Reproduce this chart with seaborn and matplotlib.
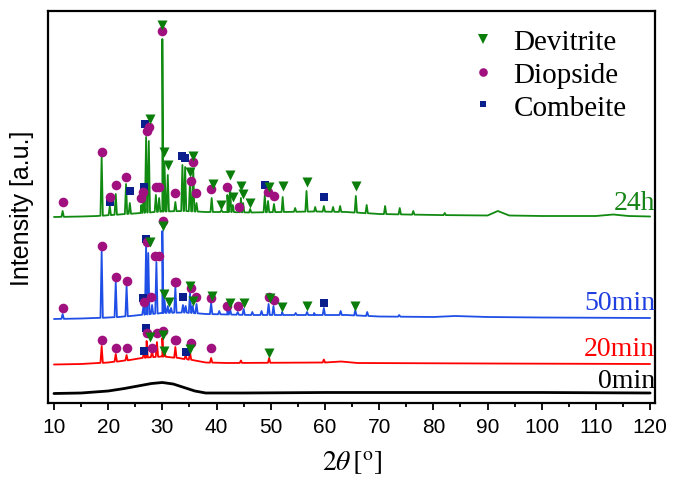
import numpy as np
import pandas as pd
import matplotlib
matplotlib.use("Agg")
import matplotlib.pyplot as plt
from matplotlib.ticker import MultipleLocator
from matplotlib.lines import Line2D
import seaborn as sns

# ---------------- data ----------------
# y values are intensities in arbitrary units (already offset per pattern)

# 0 min (amorphous)
base0_x = [10.0, 15.0, 20.0, 23.0, 26.0, 28.0, 30.0, 32.0, 34.0, 36.0, 38.0, 45.0, 60.0, 80.0, 100.0, 120.0]
base0_y = [9.5, 10.0, 12.0, 14.5, 17.5, 19.5, 20.5, 19.0, 15.5, 12.0, 10.0, 10.0, 10.5, 10.5, 10.5, 10.0]
peak0_x = []
peak0_y = []

# 20 min
base20_x = [10.0, 15.0, 20.0, 24.0, 27.0, 30.0, 33.0, 36.0, 38.0, 42.0, 60.0, 63.0, 66.0, 90.0, 120.0]
base20_y = [38.5, 39.0, 40.5, 43.0, 45.5, 46.5, 45.0, 42.5, 40.5, 40.0, 40.5, 41.5, 40.0, 39.5, 39.0]
peak20_x = [18.8, 21.4, 23.4, 26.6, 27.1, 28.1, 29.0, 30.0, 30.4, 32.4, 34.3, 35.1, 39.0, 44.5, 49.7, 59.8]
peak20_y = [57.0, 49.0, 48.0, 50.0, 62.0, 52.0, 61.0, 65.0, 51.0, 56.0, 48.0, 51.0, 45.0, 42.5, 45.0, 43.5]

# 50 min
base50_x = [10.0, 15.0, 18.0, 22.0, 26.0, 30.0, 34.0, 38.0, 42.0, 46.0, 52.0, 58.0, 64.0, 70.0, 80.0, 84.0, 90.0, 100.0, 120.0]
base50_y = [84.0, 84.5, 85.0, 86.0, 88.0, 90.0, 90.5, 89.0, 88.5, 88.0, 88.0, 88.0, 88.0, 86.5, 86.0, 87.0, 86.0, 85.5, 85.0]
peak50_x = [11.6, 18.8, 21.4, 23.4, 26.5, 27.0, 27.4, 28.1, 28.9, 30.0, 30.4, 31.0, 31.6, 32.4, 33.8, 34.3,
            35.1, 35.6, 36.3, 39.0, 40.5, 42.0, 42.5, 43.9, 45.0, 46.6, 48.3, 49.6, 50.5, 52.1, 54.6, 56.7,
            58.0, 59.8, 62.9, 65.6, 67.8, 73.7]
peak50_y = [89.0, 152.0, 121.0, 117.0, 96.0, 157.0, 150.0, 98.0, 141.0, 172.0, 103.0, 97.0, 95.0, 116.0, 98.0, 97.0,
            110.0, 97.0, 99.0, 100.0, 92.0, 92.0, 94.0, 91.0, 94.0, 91.0, 92.0, 99.0, 97.0, 91.0, 90.0, 91.0,
            90.0, 95.0, 92.0, 93.0, 91.0, 88.0]

# 24 h
base24_x = [10.0, 15.0, 18.0, 22.0, 26.0, 30.0, 34.0, 38.0, 42.0, 46.0, 52.0, 58.0, 64.0, 70.0, 80.0, 90.0, 91.9, 94.0, 100.0, 110.0, 113.2, 116.0, 120.0]
base24_y = [186.0, 186.5, 187.0, 188.5, 190.0, 191.5, 192.0, 191.0, 191.0, 190.5, 191.0, 191.5, 191.0, 189.0, 188.0, 187.5, 192.0, 187.5, 187.0, 187.0, 188.5, 187.0, 186.5]
peak24_x = [11.6, 18.8, 20.3, 21.4, 23.3, 24.0, 26.1, 26.5, 27.0, 27.5, 28.8, 29.4, 30.0, 30.4, 31.0, 32.4,
            33.7, 34.2, 35.1, 35.7, 36.3, 39.1, 40.9, 42.0, 42.5, 43.0, 44.1, 44.5, 44.9, 46.2, 48.9, 49.5,
            50.6, 52.2, 54.5, 56.6, 58.2, 59.8, 61.5, 62.8, 65.7, 67.7, 71.1, 73.8, 76.3, 82.1]
peak24_y = [192.0, 247.0, 197.0, 209.0, 219.0, 200.0, 198.0, 203.0, 266.0, 262.0, 208.0, 205.0, 364.0, 240.0, 228.0, 201.0,
            238.0, 236.0, 222.0, 234.0, 200.0, 205.0, 193.0, 208.0, 215.0, 198.0, 191.0, 205.0, 200.0, 194.0, 208.0, 202.0,
            199.0, 206.0, 195.0, 212.0, 196.0, 197.0, 196.0, 197.0, 207.0, 198.0, 197.0, 195.0, 192.0, 190.0]

# phase markers (2theta, height)
devitrite_x = [27.7, 30.0, 30.35, 31.0, 35.1, 35.7, 39.3, 40.9, 42.5, 43.0, 44.5, 44.9, 46.2, 49.7, 52.2, 56.6, 65.7,
               27.7, 30.05, 30.3, 31.3, 35.1, 35.6, 39.1, 42.5, 45.0, 49.8, 52.1, 56.7, 65.6,
               27.7, 30.05, 30.35, 35.1, 49.7]
devitrite_y = [284.0, 378.0, 250.7, 238.0, 231.3, 246.7, 219.0, 198.0, 228.0, 206.3, 216.7, 209.0, 200.0, 216.3, 216.7, 221.3, 216.7,
               160.7, 177.3, 109.0, 100.7, 117.3, 102.3, 106.7, 100.0, 100.0, 104.7, 95.7, 96.7, 96.7,
               65.7, 68.0, 51.7, 54.0, 50.0]
diopside_x = [11.6, 18.8, 20.3, 21.4, 23.3, 26.05, 26.5, 27.1, 27.6, 28.8, 29.4, 30.0, 32.4, 35.2, 35.7, 36.3, 39.0,
              42.0, 44.1, 49.5, 50.6,
              11.6, 18.8, 21.4, 23.4, 26.6, 27.1, 27.9, 28.7, 29.3, 30.05, 32.4, 32.6, 35.2, 36.3, 39.0, 42.0, 43.9,
              49.6, 50.6,
              18.8, 21.4, 23.4, 27.1, 28.1, 29.0, 30.05, 32.4, 32.6, 35.2, 39.0]
diopside_y = [201.3, 251.3, 206.3, 218.0, 226.3, 205.0, 210.7, 272.3, 275.7, 216.3, 216.3, 372.3, 209.7, 222.3, 241.3, 209.7, 214.0,
              216.3, 195.7, 211.3, 207.3,
              94.7, 157.0, 125.7, 122.0, 100.7, 161.3, 106.3, 147.3, 147.3, 182.3, 121.3, 121.3, 114.7, 106.3, 105.0, 96.7, 96.7,
              105.7, 103.0,
              63.3, 55.0, 55.0, 69.7, 54.7, 69.7, 72.3, 63.3, 63.3, 59.7, 55.0]
combeite_x = [20.3, 24.0, 26.7, 26.8, 33.7, 34.2, 48.9, 59.8,
              26.4, 27.0, 33.8, 59.8,
              26.6, 27.0, 34.3]
combeite_y = [201.3, 212.3, 215.7, 279.0, 247.3, 245.0, 218.0, 205.7,
              104.7, 164.0, 105.7, 99.7,
              52.3, 74.7, 50.7]

sample_labels = ["0min", "20min", "50min", "24h"]
label_heights = [22.0, 54.0, 101.0, 201.0]
x_ticks = [10, 20, 30, 40, 50, 60, 70, 80, 90, 100, 110, 120]
phase_names = ["Devitrite", "Diopside", "Combeite"]

# ---------------- styling ----------------
sns.set_style("ticks")
plt.rcParams["font.family"] = ["Liberation Sans", "DejaVu Sans"]
plt.rcParams["mathtext.fontset"] = "stix"
plt.rcParams["axes.edgecolor"] = "black"
plt.rcParams["xtick.color"] = "black"
plt.rcParams["text.color"] = "black"
plt.rcParams["axes.labelcolor"] = "black"

line_colors = ["#000000", "#ff0000", "#1f4fe6", "#118a11"]
text_colors = ["#000000", "#ff0000", "#1f3fe0", "#168416"]
marker_colors = {"Devitrite": "#0a7d0a", "Diopside": "#a0107f", "Combeite": "#0a1f8c"}


def build_pattern(bx, by, px, py, hw=0.22):
    xs = list(bx)
    ys = list(by)
    for p, t in zip(px, py):
        foot = float(np.interp(p, bx, by))
        xs += [p - hw, p, p + hw]
        ys += [foot, t, foot]
    order = np.argsort(xs, kind="stable")
    return np.asarray(xs)[order], np.asarray(ys)[order]


patterns = [
    build_pattern(base0_x, base0_y, peak0_x, peak0_y),
    build_pattern(base20_x, base20_y, peak20_x, peak20_y),
    build_pattern(base50_x, base50_y, peak50_x, peak50_y),
    build_pattern(base24_x, base24_y, peak24_x, peak24_y),
]

fig = plt.figure(figsize=(6.73, 4.81), dpi=100)
ax = fig.add_axes([48 / 673, (481 - 404) / 481, 607 / 673, 392 / 481])

for (xs, ys), c, lw in zip(patterns, line_colors, [2.0, 1.3, 1.3, 1.3]):
    df = pd.DataFrame({"two_theta": xs, "intensity": ys})
    sns.lineplot(data=df, x="two_theta", y="intensity", color=c, lw=lw,
                 sort=False, estimator=None, ax=ax, zorder=2)

mk = pd.DataFrame({
    "two_theta": combeite_x + diopside_x + devitrite_x,
    "intensity": combeite_y + diopside_y + devitrite_y,
    "phase": ["Combeite"] * len(combeite_x) + ["Diopside"] * len(diopside_x) + ["Devitrite"] * len(devitrite_x),
})
sizes = {"Devitrite": 52, "Diopside": 48, "Combeite": 36}
shapes = {"Devitrite": "v", "Diopside": "o", "Combeite": "s"}
for ph in ["Combeite", "Diopside", "Devitrite"]:
    sub = mk[mk["phase"] == ph]
    sns.scatterplot(data=sub, x="two_theta", y="intensity", marker=shapes[ph],
                    color=marker_colors[ph], s=sizes[ph], linewidth=0, ax=ax, zorder=3,
                    legend=False)

for lab, h, c in zip(sample_labels, label_heights, text_colors):
    ax.text(1.0, h, lab, transform=ax.get_yaxis_transform(), ha="right", va="center",
            fontsize=20, color=c, family=["Liberation Serif", "DejaVu Serif"])

handles = [Line2D([], [], ls="none", marker=shapes[p], color=marker_colors[p],
                  markersize=ms, markeredgewidth=0) for p, ms in zip(phase_names, [6.5, 6.2, 5.0])]
leg = ax.legend(handles, phase_names, loc="upper left", bbox_to_anchor=(0.673, 0.985),
                frameon=False, prop={"family": "Liberation Serif", "size": 21},
                handlelength=1.0, handletextpad=0.55, labelspacing=0.22, borderaxespad=0)

ax.set_xlim(8.9, 120.9)
ax.set_ylim(0, 392)
ax.set_xticks(x_ticks)
ax.xaxis.set_minor_locator(MultipleLocator(5))
ax.tick_params(axis="x", which="major", direction="out", length=5, width=1.3, labelsize=15, pad=5)
ax.tick_params(axis="x", which="minor", direction="out", length=3, width=1.3)
ax.set_yticks([])
for sp in ax.spines.values():
    sp.set_visible(True)
    sp.set_linewidth(1.6)
    sp.set_color("black")

ax.set_xlabel(r"$\mathit{2}\theta\,[^{\mathrm{o}}]$", fontsize=20, labelpad=9)
ax.set_ylabel("Intensity [a.u.]", fontsize=18, labelpad=10)

fig.savefig("out.png", dpi=100)
